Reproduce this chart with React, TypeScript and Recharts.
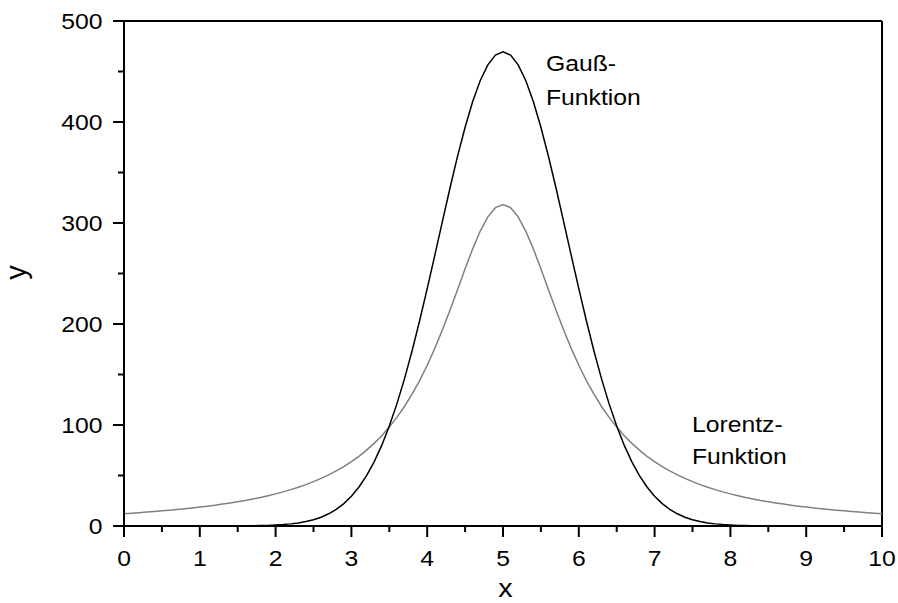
import { CartesianGrid, Customized, Line, LineChart, ReferenceLine, XAxis, YAxis } from "recharts";

// Gauß- und Lorentz-Funktion, abgetastet in Schritten von 0,1 auf x = 0 … 10
const X_VALUES = [
  0, 0.1, 0.2, 0.3, 0.4, 0.5, 0.6, 0.7, 0.8, 0.9,
  1, 1.1, 1.2, 1.3, 1.4, 1.5, 1.6, 1.7, 1.8, 1.9,
  2, 2.1, 2.2, 2.3, 2.4, 2.5, 2.6, 2.7, 2.8, 2.9,
  3, 3.1, 3.2, 3.3, 3.4, 3.5, 3.6, 3.7, 3.8, 3.9,
  4, 4.1, 4.2, 4.3, 4.4, 4.5, 4.6, 4.7, 4.8, 4.9,
  5, 5.1, 5.2, 5.3, 5.4, 5.5, 5.6, 5.7, 5.8, 5.9,
  6, 6.1, 6.2, 6.3, 6.4, 6.5, 6.6, 6.7, 6.8, 6.9,
  7, 7.1, 7.2, 7.3, 7.4, 7.5, 7.6, 7.7, 7.8, 7.9,
  8, 8.1, 8.2, 8.3, 8.4, 8.5, 8.6, 8.7, 8.8, 8.9,
  9, 9.1, 9.2, 9.3, 9.4, 9.5, 9.6, 9.7, 9.8, 9.9,
  10,
];

const GAUSS = [
  0, 0, 0, 0, 0, 0, 0, 0, 0, 0,
  0.01, 0.01, 0.02, 0.04, 0.06, 0.1, 0.16, 0.25, 0.39, 0.61,
  0.93, 1.4, 2.1, 3.0, 4.4, 6.2, 8.7, 12.1, 16.5, 22.2,
  29.5, 38.6, 49.9, 63.5, 79.8, 98.9, 120.9, 145.7, 173.3, 203.2,
  235.0, 268.0, 301.4, 334.4, 365.9, 394.8, 420.2, 441.1, 456.6, 466.2,
  469.4,
  466.2, 456.6, 441.1, 420.2, 394.8, 365.9, 334.4, 301.4, 268.0, 235.0,
  203.2, 173.3, 145.7, 120.9, 98.9, 79.8, 63.5, 49.9, 38.6, 29.5,
  22.2, 16.5, 12.1, 8.7, 6.2, 4.4, 3.0, 2.1, 1.4, 0.93,
  0.61, 0.39, 0.25, 0.16, 0.1, 0.06, 0.04, 0.02, 0.01, 0.01,
  0, 0, 0, 0, 0, 0, 0, 0, 0, 0,
];

const LORENTZ = [
  12.2, 12.7, 13.2, 13.8, 14.4, 15.0, 15.6, 16.3, 17.1, 17.9,
  18.7, 19.6, 20.6, 21.7, 22.8, 24.0, 25.3, 26.8, 28.3, 30.0,
  31.8, 33.8, 36.0, 38.4, 41.0, 43.9, 47.1, 50.6, 54.5, 58.8,
  63.7, 69.0, 75.1, 81.8, 89.4, 97.9, 107.5, 118.3, 130.5, 144.0,
  159.2, 175.9, 194.1, 213.6, 234.0, 254.6, 274.4, 292.0, 306.1, 315.2,
  318.3,
  315.2, 306.1, 292.0, 274.4, 254.6, 234.0, 213.6, 194.1, 175.9, 159.2,
  144.0, 130.5, 118.3, 107.5, 97.9, 89.4, 81.8, 75.1, 69.0, 63.7,
  58.8, 54.5, 50.6, 47.1, 43.9, 41.0, 38.4, 36.0, 33.8, 31.8,
  30.0, 28.3, 26.8, 25.3, 24.0, 22.8, 21.7, 20.6, 19.6, 18.7,
  17.9, 17.1, 16.3, 15.6, 15.0, 14.4, 13.8, 13.2, 12.7, 12.2,
];

const X_TICKS = [0, 0.5, 1, 1.5, 2, 2.5, 3, 3.5, 4, 4.5, 5, 5.5, 6, 6.5, 7, 7.5, 8, 8.5, 9, 9.5, 10];
const Y_TICKS = [0, 50, 100, 150, 200, 250, 300, 350, 400, 450, 500];

const FONT = "'Liberation Sans', Arial, sans-serif";
const FONT_SIZE = 21.5;
const STRETCH = "scale(1.15,1)";
const LORENTZ_GRAY = "#808080";

const rows = X_VALUES.map((x, i) => ({ x, gauss: GAUSS[i], lorentz: LORENTZ[i] }));

function XTick({ x, y, payload }: any) {
  const v = payload.value;
  const major = Number.isInteger(v);
  return (
    <g>
      <line x1={x} x2={x} y1={y} y2={y + (major ? 11 : 6)} stroke="#000" strokeWidth={2} />
      {major && (
        <text transform={`translate(${x},${y + 39.5}) ${STRETCH}`} textAnchor="middle" fontSize={FONT_SIZE} fontFamily={FONT} fill="#000">
          {v}
        </text>
      )}
    </g>
  );
}

function YTick({ x, y, payload }: any) {
  const v = payload.value;
  const major = v % 100 === 0;
  return (
    <g>
      <line x1={x - (major ? 11 : 6)} x2={x} y1={y} y2={y} stroke="#000" strokeWidth={2} />
      {major && (
        <text transform={`translate(${x - 21.5},${y + 7.7}) ${STRETCH}`} textAnchor="end" fontSize={FONT_SIZE} fontFamily={FONT} fill="#000">
          {v}
        </text>
      )}
    </g>
  );
}

function Labels() {
  const t = (x: number, y: number, s: string) => (
    <text transform={`translate(${x},${y}) ${STRETCH}`} fontSize={FONT_SIZE} fontFamily={FONT} fill="#000">
      {s}
    </text>
  );
  return (
    <g>
      {t(546, 71, "Gauß-")}
      {t(546, 105, "Funktion")}
      {t(692, 432, "Lorentz-")}
      {t(692, 464, "Funktion")}
      <text transform={`translate(505.5,597) ${STRETCH}`} textAnchor="middle" fontSize={25} fontFamily={FONT} fill="#000">
        x
      </text>
      <text transform="translate(26,272.5) rotate(-90)" textAnchor="middle" fontSize={29} fontFamily={FONT} fill="#000">
        y
      </text>
    </g>
  );
}

export default function App() {
  return (
    <div style={{ position: "absolute", left: 0, top: 0, background: "#fff" }}>
      <LineChart width={898} height={603} data={rows} margin={{ top: 21, right: 16, bottom: 0, left: 0 }}>
        <CartesianGrid stroke="none" />
        <XAxis
          dataKey="x"
          type="number"
          domain={[0, 10]}
          ticks={X_TICKS}
          height={77}
          tickSize={0}
          tickMargin={0}
          tickLine={false}
          tick={<XTick />}
          axisLine={{ stroke: "#000", strokeWidth: 2 }}
          interval={0}
        />
        <YAxis
          type="number"
          domain={[0, 500]}
          ticks={Y_TICKS}
          width={124}
          tickSize={0}
          tickMargin={0}
          tickLine={false}
          tick={<YTick />}
          axisLine={{ stroke: "#000", strokeWidth: 2 }}
          interval={0}
        />
        <ReferenceLine y={500} stroke="#000" strokeWidth={2} />
        <ReferenceLine x={10} stroke="#000" strokeWidth={2} />
        <Line type="linear" dataKey="lorentz" stroke={LORENTZ_GRAY} strokeWidth={1.5} dot={false} isAnimationActive={false} />
        <Line type="linear" dataKey="gauss" stroke="#000" strokeWidth={1.5} dot={false} isAnimationActive={false} />
        <Customized component={<Labels />} />
      </LineChart>
    </div>
  );
}
